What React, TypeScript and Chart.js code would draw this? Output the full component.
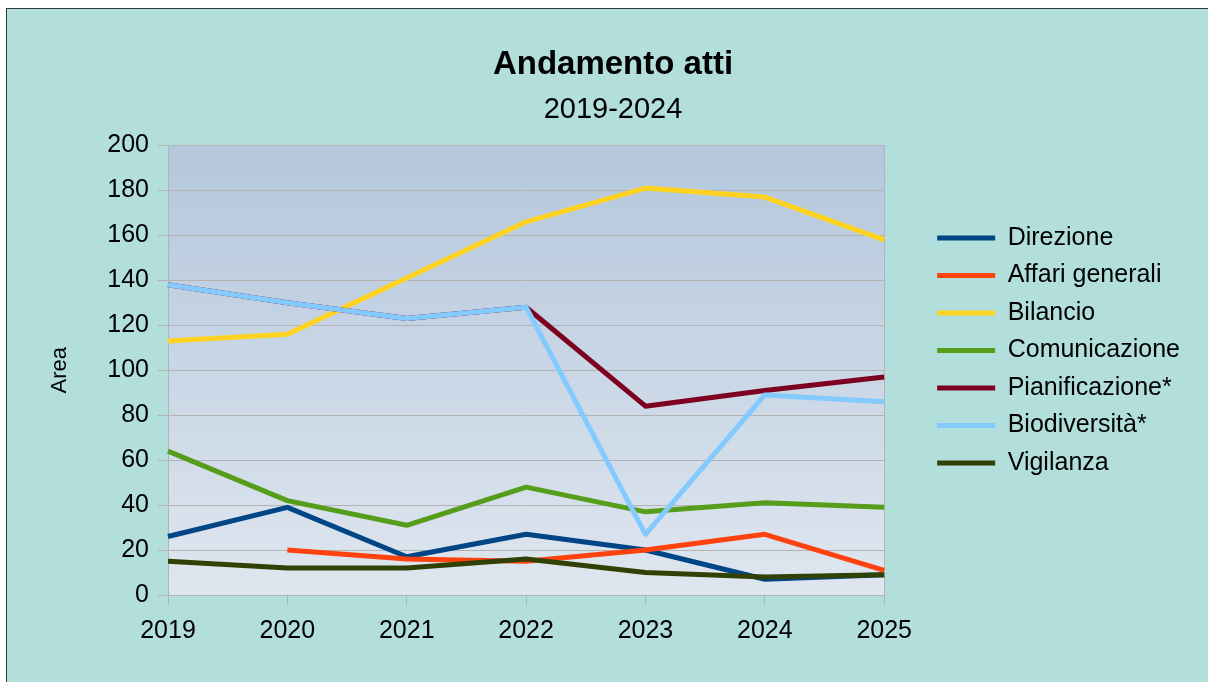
import React, { useEffect, useRef } from 'react';
import { Chart, registerables } from 'chart.js';

Chart.register(...registerables);

const FONT = "'Liberation Sans', Arial, sans-serif";

const years = ['2019', '2020', '2021', '2022', '2023', '2024', '2025'];
const direzione = [26, 39, 17, 27, 20, 7, 9];
const affariGenerali = [null, 20, 16, 15, 20, 27, 11];
const bilancio = [113, 116, 141, 166, 181, 177, 158];
const comunicazione = [64, 42, 31, 48, 37, 41, 39];
const pianificazione = [138, 130, 123, 128, 84, 91, 97];
const biodiversita = [138, 130, 123, 128, 27, 89, 86];
const vigilanza = [15, 12, 12, 16, 10, 8, 9];

const seriesNames = ['Direzione', 'Affari generali', 'Bilancio', 'Comunicazione', 'Pianificazione*', 'Biodiversità*', 'Vigilanza'];
const seriesColors = ['#004586', '#ff420e', '#ffd320', '#579d1c', '#7e0021', '#83caff', '#314004'];
const seriesValues = [direzione, affariGenerali, bilancio, comunicazione, pianificazione, biodiversita, vigilanza];

const chartTitle = 'Andamento atti';
const chartSubtitle = '2019-2024';
const yAxisTitle = 'Area';
const yMin = 0;
const yMax = 200;
const yStep = 20;

const plotBackground = {
  id: 'plotBackground',
  beforeDraw(chart: any) {
    const { ctx, chartArea: a } = chart;
    if (!a) return;
    const g = ctx.createLinearGradient(0, a.top, 0, a.bottom);
    g.addColorStop(0, '#b4c7dc');
    g.addColorStop(1, '#dfe6ef');
    ctx.save();
    ctx.fillStyle = g;
    ctx.fillRect(a.left, a.top, a.right - a.left, a.bottom - a.top);
    ctx.restore();
  },
};

export default function App() {
  const canvasRef = useRef<HTMLCanvasElement | null>(null);

  useEffect(() => {
    if (!canvasRef.current) return;
    const datasets = seriesNames.map((name, i) => ({
      label: name,
      data: seriesValues[i],
      borderColor: seriesColors[i],
      backgroundColor: seriesColors[i],
      borderWidth: 5,
      pointRadius: 0,
      pointHoverRadius: 0,
      tension: 0,
      fill: false,
      spanGaps: false,
      borderJoinStyle: 'round',
      yAxisID: 'y',
      order: seriesNames.length - 1 - i,
    }));

    const chart = new Chart(canvasRef.current, {
      type: 'line',
      data: { labels: years, datasets },
      plugins: [plotBackground],
      options: {
        animation: false,
        responsive: false,
        events: [],
        layout: { padding: { left: 29, right: 29, top: 0, bottom: 0 } },
        plugins: {
          title: {
            display: true,
            text: chartTitle,
            color: '#000',
            font: { family: FONT, size: 33, weight: 'bold' },
            padding: { top: 35, bottom: 0 },
          },
          subtitle: {
            display: true,
            text: chartSubtitle,
            color: '#000',
            font: { family: FONT, size: 29, weight: 'normal' },
            padding: { top: 8, bottom: 18 },
          },
          legend: {
            display: true,
            position: 'right',
            align: 'center',
            labels: {
              boxWidth: 58,
              boxHeight: 5,
              padding: 12.5,
              color: '#000',
              font: { family: FONT, size: 25 },
              sort: (a: any, b: any) => a.datasetIndex - b.datasetIndex,
              generateLabels: (c: any) =>
                Chart.defaults.plugins.legend.labels.generateLabels(c).map((l: any) => ({
                  ...l,
                  fillStyle: l.strokeStyle,
                  lineWidth: 0,
                })),
            },
          },
          tooltip: { enabled: false },
        },
        scales: {
          x: {
            type: 'category',
            offset: false,
            grid: {
              display: true,
              drawOnChartArea: true,
              color: (ctx: any) => (ctx.index === years.length - 1 ? '#b3b3b3' : 'rgba(0,0,0,0)'),
              tickColor: '#b3b3b3',
              tickLength: 10,
              lineWidth: 1,
            },
            border: { display: true, color: '#b3b3b3' },
            ticks: {
              color: '#000',
              font: { family: FONT, size: 25 },
              padding: 11,
              maxRotation: 0,
              autoSkip: false,
            },
            afterFit: (s: any) => {
              s.height = 96;
            },
          },
          y: {
            min: yMin,
            max: yMax,
            grid: { color: '#b3b3b3', tickColor: '#b3b3b3', tickLength: 10, lineWidth: 1 },
            border: { display: true, color: '#b3b3b3' },
            ticks: {
              stepSize: yStep,
              color: '#000',
              font: { family: FONT, size: 25 },
              padding: 9,
            },
            title: {
              display: true,
              text: yAxisTitle,
              color: '#000',
              font: { family: FONT, size: 22 },
              padding: { top: 11, bottom: 0 },
            },
            afterFit: (s: any) => {
              s.width = 132;
            },
          },
          gap: {
            type: 'linear',
            axis: 'y',
            position: 'right',
            display: false,
            afterFit: (s: any) => {
              s.width = 40.5;
            },
          },
        },
      },
    } as any);
    return () => chart.destroy();
  }, []);

  return (
    <div
      style={{
        position: 'fixed',
        left: 6,
        top: 8,
        width: 1260,
        height: 740,
        borderLeft: '1px solid #2f3a3a',
        borderTop: '1px solid #2f3a3a',
        background: '#b2dfdb',
        overflow: 'hidden',
      }}
    >
      <canvas
        ref={canvasRef}
        width={1212}
        height={681}
        style={{ display: 'block', position: 'absolute', left: 0, top: 1, width: 1212, height: 681 }}
      />
    </div>
  );
}
